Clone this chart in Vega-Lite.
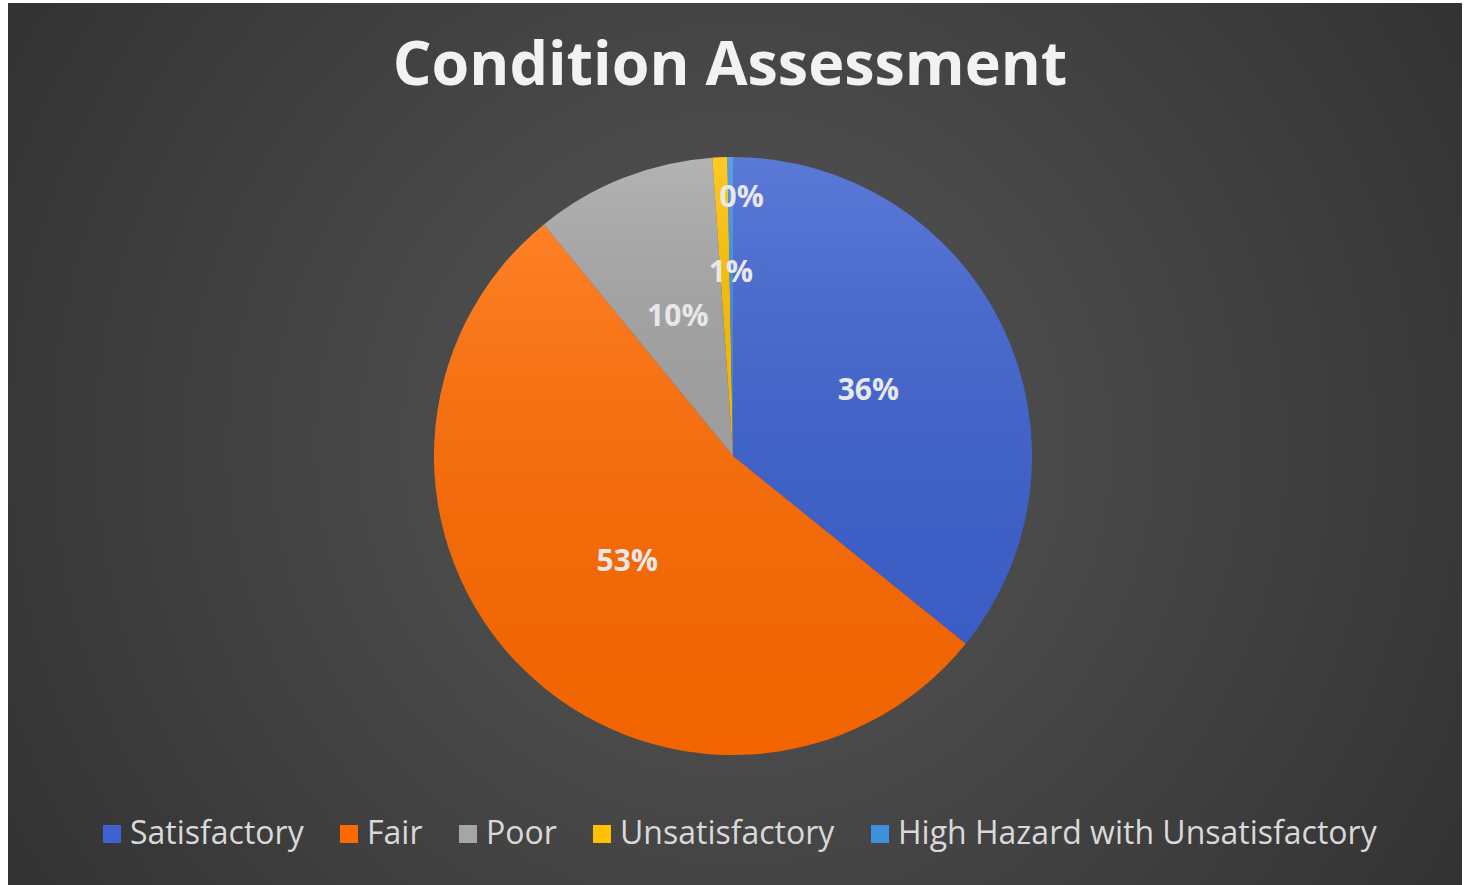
{
  "$schema": "https://vega.github.io/schema/vega-lite/v6.json",
  "width": 1454,
  "height": 882,
  "autosize": "none",
  "padding": {"left": 8, "top": 3, "right": 2, "bottom": 0},
  "background": "#ffffff",
  "config": {"view": {"stroke": null}},
  "title": {
    "text": "Condition Assessment",
    "font": "Open Sans",
    "fontSize": 61,
    "fontWeight": "bold",
    "color": "#f2f2f2",
    "anchor": "middle",
    "frame": "group",
    "baseline": "alphabetic",
    "offset": -143,
    "dx": -5
  },
  "data": {
    "values": [
      {"category": "Satisfactory", "share": 0.358, "k": 1},
      {"category": "Fair", "share": 0.533, "k": 2},
      {"category": "Poor", "share": 0.098, "k": 3},
      {"category": "Unsatisfactory", "share": 0.008, "k": 4},
      {"category": "High Hazard with Unsatisfactory", "share": 0.003, "k": 5}
    ]
  },
  "layer": [
    {
      "data": {"values": [{}]},
      "mark": {
        "type": "rect",
        "fill": {
          "gradient": "radial",
          "x1": 0.5, "y1": 0.5, "r1": 0,
          "x2": 0.5, "y2": 0.5, "r2": 0.72,
          "stops": [
            {"offset": 0, "color": "#575757"},
            {"offset": 1, "color": "#2a2a2a"}
          ]
        }
      },
      "encoding": {
        "x": {"value": 0},
        "x2": {"value": "width"},
        "y": {"value": 0},
        "y2": {"value": "height"}
      }
    },
    {
      "mark": {"type": "arc", "outerRadius": 299, "xOffset": -2, "yOffset": 12},
      "encoding": {
        "theta": {"field": "share", "type": "quantitative", "stack": true},
        "order": {"field": "k", "type": "quantitative"},
        "color": {
          "field": "category",
          "type": "nominal",
          "scale": {
            "domain": ["Satisfactory", "Fair", "Poor", "Unsatisfactory", "High Hazard with Unsatisfactory"],
            "range": ["#3e62d0", "#ff6a00", "#a6a6a6", "#ffc000", "#3f8fdf"]
          },
          "legend": {
            "orient": "none",
            "legendX": 88,
            "legendY": 815,
            "direction": "horizontal",
            "title": null,
            "symbolType": "square",
            "symbolSize": 324,
            "symbolStrokeWidth": 0,
            "symbolOpacity": 1,
            "labelFont": "Open Sans",
            "labelFontSize": 32,
            "labelColor": "#d9d9d9",
            "labelLimit": 700,
            "labelOffset": 2,
            "columnPadding": 29,
            "padding": 0
          }
        }
      }
    },
    {
      "mark": {
        "type": "arc",
        "outerRadius": 299,
        "xOffset": -2,
        "yOffset": 12,
        "fill": {
          "gradient": "linear",
          "x1": 0, "y1": 0, "x2": 0, "y2": 1,
          "stops": [
            {"offset": 0, "color": "rgba(255,255,255,0.15)"},
            {"offset": 1, "color": "rgba(0,0,0,0.05)"}
          ]
        }
      },
      "encoding": {
        "theta": {"field": "share", "type": "quantitative", "stack": true},
        "order": {"field": "k", "type": "quantitative"}
      }
    },
    {
      "mark": {"type": "text", "radius": 150, "xOffset": -2, "yOffset": 12, "font": "Open Sans", "fontSize": 30, "fontWeight": "bold", "color": "#e8e8e8"},
      "encoding": {
        "theta": {"field": "share", "type": "quantitative", "stack": true},
        "order": {"field": "k", "type": "quantitative"},
        "text": {"condition": {"test": "datum.share < 0.05", "value": ""}, "field": "share", "type": "quantitative", "format": ".0%"}
      }
    },
    {
      "mark": {"type": "text", "radius": 183, "dx": 6, "xOffset": -2, "yOffset": 12, "font": "Open Sans", "fontSize": 30, "fontWeight": "bold", "color": "#e8e8e8"},
      "encoding": {
        "theta": {"field": "share", "type": "quantitative", "stack": true},
        "order": {"field": "k", "type": "quantitative"},
        "text": {"condition": {"test": "datum.category !== 'Unsatisfactory'", "value": ""}, "field": "share", "type": "quantitative", "format": ".0%"}
      }
    },
    {
      "mark": {"type": "text", "radius": 258, "dx": 11, "xOffset": -2, "yOffset": 12, "font": "Open Sans", "fontSize": 30, "fontWeight": "bold", "color": "#e8e8e8"},
      "encoding": {
        "theta": {"field": "share", "type": "quantitative", "stack": true},
        "order": {"field": "k", "type": "quantitative"},
        "text": {"condition": {"test": "datum.category !== 'High Hazard with Unsatisfactory'", "value": ""}, "field": "share", "type": "quantitative", "format": ".0%"}
      }
    }
  ]
}
